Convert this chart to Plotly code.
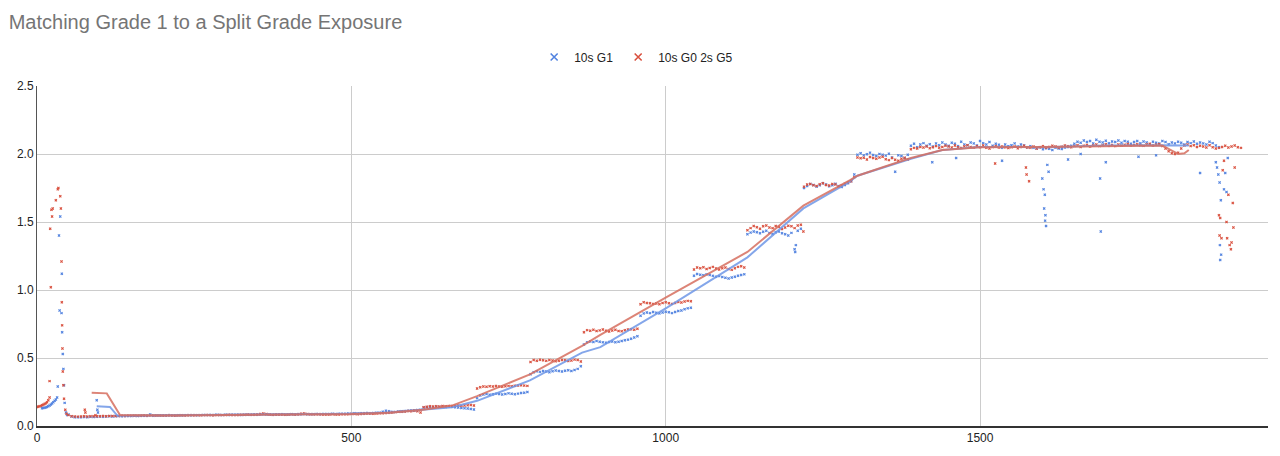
import plotly.graph_objects as go

# ---------------- data ----------------
# main plateau samples every 5 units
red_x_start, red_step = 50, 5
red_y = [
    0.080, 0.072, 0.070, 0.069, 0.070, 0.071, 0.070, 0.071, 0.072, 0.071, 0.072, 0.073, 0.072, 0.073, 0.074, 0.073, 0.074, 0.075, 0.074, 0.075,
    0.075, 0.076, 0.075, 0.076, 0.077, 0.076, 0.077, 0.078, 0.077, 0.078, 0.077, 0.078, 0.079, 0.078, 0.077, 0.078, 0.079, 0.078, 0.079, 0.080,
    0.079, 0.080, 0.079, 0.080, 0.081, 0.080, 0.079, 0.080, 0.081, 0.080, 0.081, 0.082, 0.081, 0.080, 0.081, 0.082, 0.083, 0.084, 0.083, 0.082,
    0.084, 0.088, 0.092, 0.088, 0.085, 0.083, 0.084, 0.085, 0.084, 0.083, 0.085, 0.086, 0.085, 0.087, 0.090, 0.092, 0.089, 0.087, 0.086, 0.087,
    0.086, 0.085, 0.084, 0.085, 0.086, 0.085, 0.084, 0.086, 0.087, 0.086, 0.088, 0.089, 0.087, 0.088, 0.090, 0.092, 0.091, 0.090, 0.092, 0.093,
    0.094, 0.096, 0.098, 0.100, 0.102, 0.104, 0.105, 0.107, 0.110, 0.108, 0.112, 0.108, 0.100, 0.138, 0.142, 0.145, 0.143, 0.146, 0.144, 0.147,
    0.145, 0.148, 0.146, 0.149, 0.150, 0.148, 0.151, 0.153, 0.155, 0.150, 0.275, 0.285, 0.290, 0.288, 0.292, 0.290, 0.294, 0.291, 0.289, 0.293,
    0.295, 0.292, 0.296, 0.298, 0.300, 0.297, 0.295, 0.470, 0.485, 0.480, 0.487, 0.483, 0.479, 0.485, 0.482, 0.476, 0.480, 0.486, 0.483, 0.478,
    0.482, 0.488, 0.485, 0.475, 0.690, 0.705, 0.700, 0.708, 0.698, 0.703, 0.710, 0.700, 0.695, 0.702, 0.707, 0.699, 0.696, 0.704, 0.709, 0.712,
    0.708, 0.715, 0.895, 0.910, 0.905, 0.902, 0.898, 0.900, 0.895, 0.905, 0.910, 0.902, 0.898, 0.905, 0.912, 0.908, 0.915, 0.920, 0.918, 1.150,
    1.165, 1.160, 1.168, 1.155, 1.162, 1.170, 1.158, 1.150, 1.160, 1.165, 1.155, 1.148, 1.160, 1.170, 1.175, 1.165, 1.440, 1.455, 1.470, 1.462,
    1.450, 1.468, 1.475, 1.460, 1.455, 1.470, 1.465, 1.448, 1.460, 1.472, 1.468, 1.455, 1.475, 1.480, 1.760, 1.775, 1.780, 1.770, 1.765, 1.778,
    1.785, 1.772, 1.768, 1.780, 1.775, 1.760, 1.770, 1.782, 1.790, 1.800, 1.830, 1.975, 1.968, 1.972, 1.960, 1.978, 1.970, 1.965, 1.975, 1.980,
    1.962, 1.955, 1.970, 1.958, 1.950, 1.965, 1.972, 1.960, 2.035, 2.045, 2.040, 2.052, 2.048, 2.055, 2.043, 2.050, 2.058, 2.046, 2.052, 2.060,
    2.055, 2.048, 2.062, 2.050, 2.044, 2.056, 2.065, 2.052, 2.047, 2.058, 2.050, 2.062, 2.045, 2.040, 2.052, 2.058, 2.047, 2.055, 2.049, 2.044,
    2.050, 2.056, 2.043, 2.052, 2.060, 2.048, 2.045, 2.055, 2.040, 2.050, 2.058, 2.046, 2.052, 2.060, 2.055, 2.048, 2.053, 2.062, 2.057, 2.050,
    2.058, 2.064, 2.052, 2.060, 2.066, 2.055, 2.062, 2.070, 2.058, 2.065, 2.072, 2.060, 2.066, 2.058, 2.070, 2.063, 2.068, 2.074, 2.062, 2.066,
    2.072, 2.065, 2.060, 2.070, 2.075, 2.062, 2.068, 2.072, 2.058, 2.040, 2.020, 2.005, 2.000, 2.010, 2.040, 2.062, 2.070, 2.058, 2.065, 2.052,
    2.060, 2.055, 2.048, 2.065, 2.050, 2.040, 2.045, 2.052, 2.060, 2.048, 2.055, 2.062, 2.050, 2.045,
]
blue_x_start, blue_step = 50, 5
blue_y = [
    0.085, 0.070, 0.065, 0.064, 0.065, 0.066, 0.065, 0.067, 0.066, 0.068, 0.069, 0.068, 0.070, 0.071, 0.070, 0.072, 0.073, 0.072, 0.074, 0.073,
    0.074, 0.075, 0.074, 0.076, 0.075, 0.076, 0.085, 0.076, 0.078, 0.077, 0.078, 0.077, 0.079, 0.078, 0.077, 0.079, 0.078, 0.079, 0.080, 0.079,
    0.080, 0.079, 0.080, 0.081, 0.080, 0.081, 0.080, 0.082, 0.081, 0.080, 0.082, 0.081, 0.082, 0.083, 0.082, 0.081, 0.083, 0.082, 0.083, 0.084,
    0.083, 0.085, 0.086, 0.085, 0.084, 0.083, 0.084, 0.085, 0.086, 0.085, 0.084, 0.086, 0.085, 0.086, 0.087, 0.088, 0.087, 0.086, 0.087, 0.088,
    0.087, 0.088, 0.089, 0.088, 0.090, 0.089, 0.090, 0.091, 0.090, 0.092, 0.091, 0.093, 0.092, 0.094, 0.093, 0.095, 0.094, 0.096, 0.097, 0.098,
    0.105, 0.112, 0.108, 0.104, 0.103, 0.106, 0.108, 0.110, 0.112, 0.114, 0.115, 0.118, 0.120, 0.135, 0.138, 0.140, 0.137, 0.141, 0.139, 0.142,
    0.140, 0.143, 0.141, 0.138, 0.136, 0.133, 0.131, 0.128, 0.125, 0.122, 0.205, 0.225, 0.232, 0.236, 0.230, 0.234, 0.238, 0.235, 0.232, 0.236,
    0.240, 0.237, 0.234, 0.238, 0.242, 0.245, 0.250, 0.380, 0.395, 0.402, 0.398, 0.405, 0.400, 0.395, 0.402, 0.408, 0.404, 0.400, 0.406, 0.410,
    0.405, 0.412, 0.420, 0.440, 0.600, 0.615, 0.622, 0.618, 0.625, 0.620, 0.615, 0.612, 0.618, 0.622, 0.616, 0.620, 0.625, 0.630, 0.635, 0.642,
    0.650, 0.660, 0.810, 0.828, 0.835, 0.830, 0.838, 0.832, 0.828, 0.834, 0.840, 0.836, 0.830, 0.838, 0.845, 0.850, 0.858, 0.865, 0.870, 1.105,
    1.118, 1.112, 1.108, 1.115, 1.110, 1.104, 1.098, 1.102, 1.095, 1.090, 1.085, 1.092, 1.098, 1.105, 1.110, 1.115, 1.410, 1.422, 1.430, 1.425,
    1.418, 1.428, 1.435, 1.420, 1.412, 1.425, 1.430, 1.418, 1.410, 1.400, 1.420, 1.300, 1.435, 1.450, 1.750, 1.765, 1.780, 1.772, 1.760, 1.770,
    1.785, 1.775, 1.762, 1.770, 1.782, 1.765, 1.758, 1.772, 1.785, 1.800, 1.850, 1.995, 2.005, 1.990, 1.998, 2.010, 1.992, 1.985, 2.000, 1.995,
    1.988, 2.002, 1.975, 1.870, 1.990, 1.985, 1.970, 1.995, 2.060, 2.075, 2.050, 2.070, 2.080, 2.060, 2.072, 2.055, 2.078, 2.065, 2.085, 2.070,
    2.060, 2.082, 2.075, 2.058, 2.090, 2.070, 2.065, 2.085, 2.078, 2.062, 2.095, 2.080, 2.070, 2.088, 2.060, 2.075, 2.068, 2.045, 2.070, 2.058,
    2.065, 2.078, 2.055, 2.070, 2.062, 2.050, 2.058, 2.045, 2.040, 2.050, 2.035, 2.042, 2.038, 2.030, 2.045, 2.040, 2.036, 2.048, 2.052, 2.060,
    2.075, 2.090, 2.082, 2.100, 2.088, 2.095, 2.078, 2.105, 2.090, 2.085, 2.098, 2.080, 2.092, 2.088, 2.100, 2.082, 2.095, 2.090, 2.075, 2.088,
    2.095, 2.080, 2.092, 2.085, 2.070, 2.090, 2.082, 2.078, 2.095, 2.088, 2.072, 2.085, 2.078, 2.090, 2.082, 2.070, 2.088, 2.080, 2.092, 2.075,
    2.085, 2.078, 2.070, 2.090, 2.080, 2.062, 2.050,
]

# early curve, spike and scattered outliers (x, y)
red_extra_x = [0, 2, 4, 6, 8, 10, 12, 14, 16, 18, 20, 20, 21, 22, 23, 24, 25, 30, 33, 34, 37, 38, 39, 39.5, 40, 40.5, 41, 42, 43, 45, 47,
               76, 77, 93, 1219, 1524, 1573, 1574, 1578, 1880, 1881, 1882, 1884, 1886, 1888, 1892, 1893, 1895, 1897, 1899, 1900, 1902, 1903, 1905]
red_extra_y = [0.140, 0.142, 0.145, 0.148, 0.152, 0.156, 0.162, 0.168, 0.175, 0.190, 0.210, 0.330, 1.450, 1.020, 1.590, 1.540, 1.600, 1.660,
               1.740, 1.750, 1.690, 1.600, 1.210, 0.910, 0.740, 0.570, 0.400, 0.300, 0.200, 0.120, 0.090,
               0.120, 0.100, 0.080, 1.430, 1.930, 1.900, 1.850, 1.800, 1.550, 1.400, 1.530, 1.380, 1.880, 1.950, 1.500, 1.380, 1.700,
               1.330, 1.300, 1.350, 1.640, 1.460, 1.900]
blue_extra_x = [8, 10, 12, 14, 16, 18, 20, 22, 24, 26, 28, 30, 32, 33, 35, 36, 37, 39, 39.5, 40, 41, 42, 43, 44, 46, 48,
                95, 96, 97, 1206, 1207, 1424, 1462, 1535, 1599, 1601, 1602, 1603, 1603.5, 1604, 1605, 1607, 1609, 1640, 1660,
                1691, 1692, 1700, 1752, 1780, 1850, 1875, 1877, 1879, 1881, 1881.5, 1882, 1883, 1883.5, 1888, 1890, 1892, 1894]
blue_extra_y = [0.130, 0.132, 0.134, 0.137, 0.140, 0.145, 0.150, 0.158, 0.165, 0.175, 0.185, 0.195, 0.210, 0.290, 1.400, 0.850, 1.540,
                0.830, 1.120, 0.690, 0.530, 0.420, 0.300, 0.170, 0.100, 0.080,
                0.190, 0.120, 0.100, 1.280, 1.330, 1.940, 1.970, 1.950, 1.820, 1.740, 1.600, 1.700, 1.510, 1.550, 1.470, 1.920, 1.870,
                1.960, 2.000, 1.820, 1.430, 1.940, 1.980, 1.990, 1.860, 1.940, 1.900, 1.850, 1.790, 1.330, 1.220, 1.660, 1.260, 1.740,
                1.860, 1.720, 1.970]

# trendlines (moving-average style lines as drawn)
red_trend_x = [87, 111, 132, 200, 300, 400, 500, 560, 614, 660, 700, 784, 867, 896, 1002, 1130, 1219, 1294, 1305, 1350, 1390, 1440, 1500,
               1600, 1700, 1790, 1805, 1815, 1825, 1832]
red_trend_y = [0.245, 0.240, 0.080, 0.078, 0.081, 0.085, 0.089, 0.098, 0.120, 0.150, 0.220, 0.380, 0.590, 0.670, 0.950, 1.280, 1.620,
               1.810, 1.840, 1.910, 1.970, 2.030, 2.050, 2.052, 2.060, 2.062, 2.025, 2.000, 2.005, 2.030]
blue_trend_x = [95, 116, 128, 200, 300, 400, 500, 560, 614, 660, 700, 784, 867, 896, 1002, 1130, 1219, 1290, 1305, 1350, 1390, 1440, 1500,
                1600, 1700, 1790, 1832]
blue_trend_y = [0.145, 0.140, 0.075, 0.077, 0.081, 0.085, 0.090, 0.100, 0.120, 0.138, 0.185, 0.335, 0.540, 0.580, 0.870, 1.240, 1.600,
                1.790, 1.840, 1.905, 1.965, 2.030, 2.052, 2.050, 2.062, 2.065, 2.062]

series_names = ["10s G1", "10s G0 2s G5"]
x_ticks = [0, 500, 1000, 1500]
y_ticks = [0.0, 0.5, 1.0, 1.5, 2.0, 2.5]

# ---------------- figure ----------------
BLUE = "#5283e0"
RED = "#d9503e"
BLUE_T = "rgba(110,150,230,0.85)"
RED_T = "rgba(214,110,95,0.85)"

red_x = [red_x_start + i * red_step for i in range(len(red_y))] + red_extra_x
blue_x = [blue_x_start + i * blue_step for i in range(len(blue_y))] + blue_extra_x

fig = go.Figure()
fig.add_trace(go.Scatter(x=blue_x, y=blue_y + blue_extra_y, mode="markers", showlegend=False,
                         marker=dict(symbol="x", size=2.6, color=BLUE, line=dict(width=0))))
fig.add_trace(go.Scatter(x=red_x, y=red_y + red_extra_y, mode="markers", showlegend=False,
                         marker=dict(symbol="x", size=2.6, color=RED, line=dict(width=0))))
fig.add_trace(go.Scatter(x=blue_trend_x, y=blue_trend_y, mode="lines", showlegend=False,
                         line=dict(color=BLUE_T, width=2)))
fig.add_trace(go.Scatter(x=red_trend_x, y=red_trend_y, mode="lines", showlegend=False,
                         line=dict(color=RED_T, width=2)))
# legend entries
for name, col in zip(series_names, [BLUE, RED]):
    fig.add_trace(go.Scatter(x=[None], y=[None], mode="markers", name=name,
                             marker=dict(symbol="x-thin", size=7, color=col, line=dict(width=1.6, color=col))))

fig.update_layout(
    width=1280, height=456,
    paper_bgcolor="white", plot_bgcolor="white",
    font=dict(family="Liberation Sans, Arial, sans-serif", size=12, color="#222222"),
    title=dict(text="Matching Grade 1 to a Split Grade Exposure", x=0.0068, xanchor="left",
               y=0.951, yanchor="middle", font=dict(size=20, color="#757575")),
    legend=dict(orientation="h", xref="container", x=0.497, xanchor="center",
                yref="container", y=0.875, yanchor="middle",
                font=dict(size=12, color="#222222"), itemwidth=30, tracegroupgap=0),
    margin=dict(l=37, r=12, t=86, b=30, autoexpand=False),
    showlegend=True,
)
fig.update_xaxes(range=[0, 1958], tickvals=x_ticks, ticktext=[str(v) for v in x_ticks],
                 showgrid=True, gridcolor="#cccccc", gridwidth=1, zeroline=False, automargin=False,
                 showline=True, linecolor="#333333", linewidth=1.5, ticks="", ticklen=0,
                 tickfont=dict(size=12, color="#222222"))
fig.update_yaxes(range=[0, 2.5], tickvals=y_ticks, ticktext=[f"{v:.1f}" for v in y_ticks],
                 showgrid=True, gridcolor="#cccccc", gridwidth=1, zeroline=False, automargin=False,
                 showline=True, linecolor="#555555", linewidth=1, ticks="",
                 tickfont=dict(size=12, color="#222222"))

fig.write_html("out.html", config={"displayModeBar": False},
               post_script="document.body.style.margin='0';document.body.style.padding='0';")
